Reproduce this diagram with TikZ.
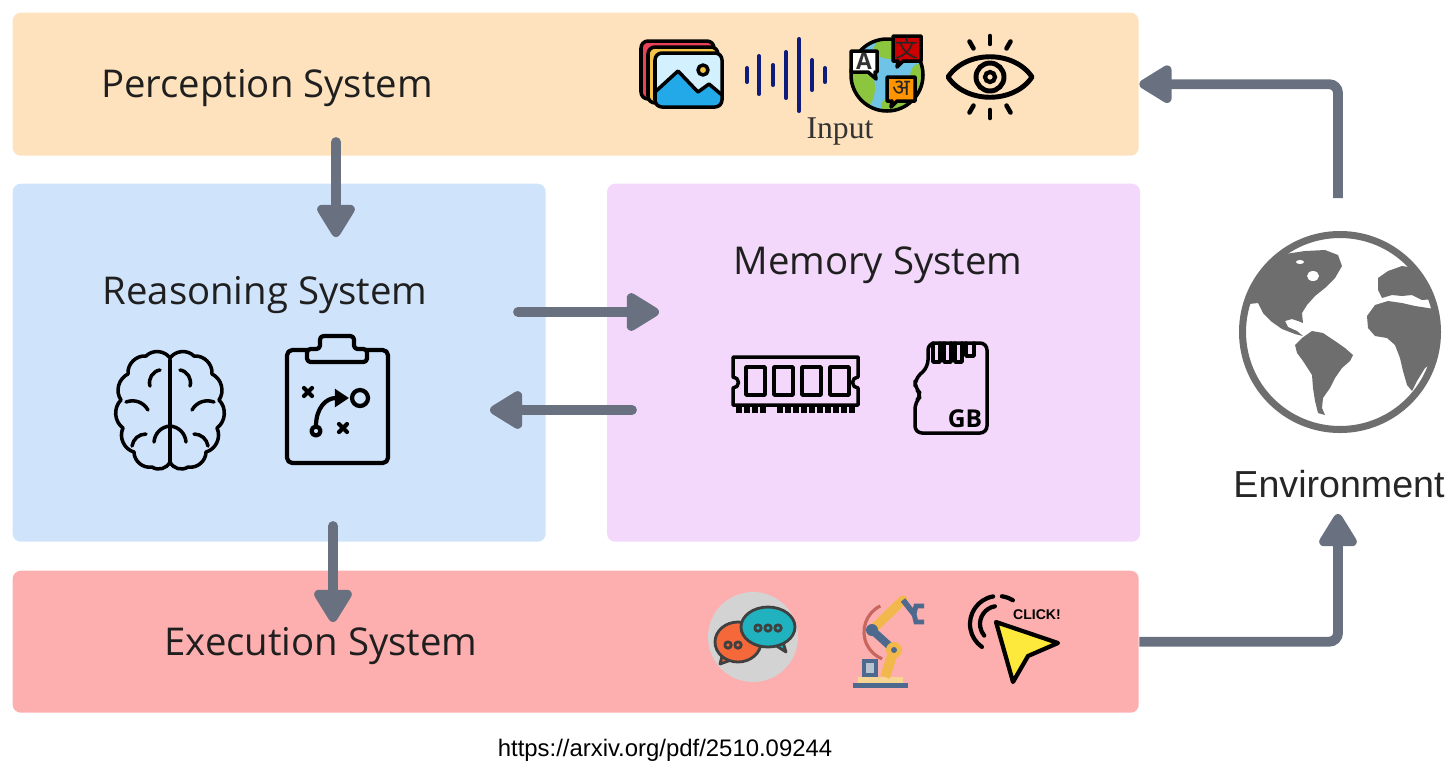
\documentclass[tikz,border=0pt]{standalone}
\usepackage{fontspec}
\setmainfont{Open Sans}
\newfontfamily\envfont{Liberation Sans}
\newfontfamily\inputfont{Liberation Serif}
\newfontfamily\devafont[Script=Devanagari]{Noto Sans}
\newfontfamily\hanfont{Noto Sans CJK SC}
\usetikzlibrary{arrows.meta,positioning}

\definecolor{percbg}{HTML}{FEE2BD}
\definecolor{reasbg}{HTML}{CFE3FB}
\definecolor{membg}{HTML}{F3D8FC}
\definecolor{execbg}{HTML}{FDAFAF}
\definecolor{flowgray}{HTML}{697181}
\definecolor{earthgray}{HTML}{6E6E6E}
\definecolor{wavenavy}{HTML}{101C7C}
\definecolor{cardred}{HTML}{E8415A}
\definecolor{cardyellow}{HTML}{F6C445}
\definecolor{skyblue}{HTML}{D2F0FD}
\definecolor{hillblue}{HTML}{24A9E8}
\definecolor{oceanblue}{HTML}{6EC3E6}
\definecolor{leafgreen}{HTML}{8CC63F}
\definecolor{chatgray}{HTML}{D3D3D3}
\definecolor{chatorange}{HTML}{F4683A}
\definecolor{chatteal}{HTML}{20B2BF}
\definecolor{armyellow}{HTML}{F2B84B}
\definecolor{armblue}{HTML}{4D6A8E}
\definecolor{armred}{HTML}{C8665E}
\definecolor{cursoryellow}{HTML}{FDE93B}

\tikzset{
  sysbox/.style={rounded corners=2.3pt, inner sep=0pt, anchor=north west},
  systitle/.style={anchor=base, text=black!88, font=\fontsize{10.9}{12}\selectfont},
  flow/.style={draw=flowgray, line width=2.8pt, line cap=round,
    -{Triangle[length=10.5pt, width=12pt, round]}},
  loopflow/.style={flow, line cap=butt, rounded corners=2.5pt},
  ink/.style={line width=1pt, line join=round, line cap=round},
}

\begin{document}
\begin{tikzpicture}[x=.1mm, y=.1mm]
  \useasboundingbox (0,0) rectangle (1456,-775) ;

  % the four systems
  \node [sysbox, fill=percbg, minimum width=11.26cm, minimum height=1.43cm] (perc) at (12,-12) {} ;
  \node [sysbox, fill=reasbg, minimum width=5.33cm, minimum height=3.58cm] (reas) at (12,-183) {} ;
  \node [sysbox, fill=membg, minimum width=5.33cm, minimum height=3.58cm, right=6mm of reas.north east, anchor=north west] (mem) {} ;
  \node [sysbox, fill=execbg, minimum width=11.26cm, minimum height=1.42cm] (exec) at (12,-570) {} ;

  \node [systitle] (perc-t) at (267,-97) {Perception System} ;
  \node [systitle] (reas-t) at (265,-304) {Reasoning System} ;
  \node [systitle] (mem-t) at (878,-274) {Memory System} ;
  \node [systitle] (exec-t) at (321,-655) {Execution System} ;

  % arrows
  \coordinate (p2r-a) at (336,-142) ; \coordinate (p2r-b) at (336,-237) ;
  \coordinate (r2m-a) at (518,-312) ; \coordinate (r2m-b) at (659,-312) ;
  \coordinate (m2r-a) at (632,-410) ; \coordinate (m2r-b) at (490,-410) ;
  \coordinate (r2e-a) at (333,-526) ; \coordinate (r2e-b) at (333,-622) ;
  \coordinate (env-in) at (1338,-514) ; \coordinate (env-out) at (1338,-198) ;

  \draw [flow] (p2r-a) -- (p2r-b) ;
  \draw [flow] (r2m-a) -- (r2m-b) ;
  \draw [flow] (m2r-a) -- (m2r-b) ;
  \draw [flow] (r2e-a) -- (r2e-b) ;
  \draw [loopflow] (exec.east) -| (env-in) ;
  \draw [loopflow] (env-out) |- (perc.east) ;

  % environment
  \node [circle, draw=earthgray, line width=2pt, minimum size=1.95cm, inner sep=0pt] (globe) at (1340,-332) {} ;
  \begin{scope}
    \clip (1340,-332) circle (95) ;
    \fill [earthgray] (1236,-292) -- (1250,-270) -- (1268,-262) -- (1285,-254) -- (1305,-251) -- (1325,-250)
      -- (1338,-255) -- (1342,-266) -- (1335,-278) -- (1325,-288) -- (1315,-296) -- (1307,-305) -- (1302,-313)
      -- (1303,-323) -- (1298,-321) -- (1292,-319) -- (1285,-321) -- (1288,-327) -- (1297,-331) -- (1303,-336)
      -- (1295,-334) -- (1282,-329) -- (1272,-322) -- (1263,-313) -- (1258,-303) -- (1240,-305) -- cycle ;
    \fill [white] (1313,-276) ellipse (6 and 5) ;
    \fill [white] (1300,-262) ellipse (4 and 2) ;
    \fill [earthgray] (1302,-338) -- (1312,-331) -- (1323,-333) -- (1335,-341) -- (1345,-348) -- (1353,-355)
      -- (1350,-361) -- (1342,-368) -- (1335,-378) -- (1330,-388) -- (1323,-398) -- (1322,-408) -- (1325,-415)
      -- (1318,-413) -- (1315,-401) -- (1313,-388) -- (1312,-375) -- (1303,-361) -- (1297,-353) -- (1295,-345) -- cycle ;
    \fill [earthgray] (1378,-278) -- (1388,-271) -- (1402,-266) -- (1415,-268) -- (1427,-278) -- (1445,-285)
      -- (1445,-298) -- (1422,-300) -- (1412,-295) -- (1402,-296) -- (1392,-295) -- (1382,-298) -- (1378,-290) -- cycle ;
    \fill [earthgray] (1367,-316) -- (1375,-305) -- (1388,-301) -- (1402,-303) -- (1415,-306) -- (1428,-308)
      -- (1445,-311) -- (1445,-355) -- (1425,-368) -- (1417,-381) -- (1412,-391) -- (1407,-385) -- (1403,-371)
      -- (1400,-358) -- (1395,-345) -- (1387,-338) -- (1375,-336) -- (1368,-328) -- cycle ;
  \end{scope}
  \node [anchor=base, font=\envfont\fontsize{10.7}{12}\selectfont, text=black!85] (env-t) at (1339,-497) {Environment} ;

  % input icons
  \begin{scope}[ink]
    \draw [fill=cardred, rounded corners=2pt] (641,-41) rectangle (714,-99) ;
    \draw [fill=cardyellow, rounded corners=2pt] (648,-47) rectangle (718,-103) ;
    \fill [skyblue, rounded corners=2pt] (655,-53) rectangle (722,-107) ;
    \begin{scope}
      \clip [rounded corners=2pt] (655,-53) rectangle (722,-107) ;
      \fill [hillblue] (655,-92) -- (678,-71) -- (698,-92) -- (709,-84) -- (722,-95) -- (722,-107) -- (655,-107) -- cycle ;
    \end{scope}
    \draw (655,-92) -- (678,-71) -- (698,-92) -- (709,-84) -- (722,-95) ;
    \draw [fill=cardyellow] (703,-70) circle (5) ;
    \draw [rounded corners=2pt] (655,-53) rectangle (722,-107) ;
  \end{scope}
  \foreach \x/\h in {747/7, 759/19, 773/10, 786/23, 799/36, 812/15, 825/7}
    \draw [wavenavy, line width=1.15pt, line cap=round] (\x,{-75+\h}) -- (\x,{-75-\h}) ;
  \begin{scope}[ink]
    \fill [oceanblue] (887,-75) circle (36) ;
    \begin{scope}
      \clip (887,-75) circle (36) ;
      \fill [leafgreen] (858,-88) ellipse (17 and 24) ;
      \fill [leafgreen] (903,-106) ellipse (22 and 12) ;
      \fill [leafgreen] (890,-48) ellipse (16 and 11) ;
      \fill [leafgreen] (918,-78) ellipse (8 and 14) ;
    \end{scope}
    \draw (887,-75) circle (36) ;
    \draw [fill=white] (851,-51) -- (877,-51) -- (877,-72) -- (875,-72) -- (876,-79) -- (868,-72) -- (851,-72) -- cycle ;
    \draw [fill=red!80!black] (893,-36) -- (921,-36) -- (921,-61) -- (903,-61) -- (897,-67) -- (898,-61) -- (893,-61) -- cycle ;
    \draw [fill=orange!85!yellow] (887,-77) -- (915,-77) -- (915,-101) -- (897,-101) -- (891,-107) -- (892,-101) -- (887,-101) -- cycle ;
  \end{scope}
  \node [font=\bfseries\fontsize{6.5}{7}\selectfont, text=black!80] (lang-a) at (864,-61.5) {A} ;
  \node [font=\hanfont\fontsize{6.5}{7}\selectfont, text=black!85] (lang-zh) at (907,-48.5) {文} ;
  \node [font=\devafont\fontsize{6.5}{7}\selectfont, text=black!85] (lang-hi) at (901,-88) {अ} ;
  \draw [line width=1.4pt, line join=round] (948,-77) .. controls (966,-50) and (1014,-50) .. (1032,-77)
    .. controls (1014,-104) and (966,-104) .. (948,-77) -- cycle ;
  \draw [line width=1.4pt] (990,-77) circle (14) ;
  \draw [line width=1.2pt] (990,-77) circle (5) ;
  \foreach \a in {60,90,120,240,270,300}
    \draw [line width=1.3pt, line cap=round] (990,-77) ++(\a:33) -- ++(\a:8) ;
  \node [anchor=base, font=\inputfont\fontsize{9}{10}\selectfont, text=black!80] (input-t) at (840,-138) {Input} ;

  % reasoning icons
  \begin{scope}[ink]
    \draw (170,-358) to[bend right=50] (146,-356) to[bend right=50] (128,-374) to[bend right=50] (121,-400)
      to[bend right=50] (123,-428) to[bend right=50] (134,-452) to[bend right=50] (152,-467) to[bend right=50] (170,-462) ;
    \draw (170,-358) to[bend left=50] (194,-356) to[bend left=50] (212,-374) to[bend left=50] (219,-400)
      to[bend left=50] (217,-428) to[bend left=50] (206,-452) to[bend left=50] (188,-467) to[bend left=50] (170,-462) ;
    \draw (170,-360) -- (170,-462) ;
    \draw (160,-370) to[bend right=50] (150,-386) ;
    \draw (126,-402) to[bend left=40] (148,-410) ;
    \draw (170,-426) to[bend right=40] (154,-442) ;
    \draw (132,-446) to[bend left=40] (146,-434) ;
    \draw (180,-370) to[bend left=50] (190,-386) ;
    \draw (214,-402) to[bend right=40] (192,-410) ;
    \draw (170,-426) to[bend left=40] (186,-442) ;
    \draw (208,-446) to[bend right=40] (194,-434) ;

    \draw [line width=1.2pt, rounded corners=1.5pt] (287,-350) rectangle (388,-463) ;
    \draw [line width=1.2pt, fill=reasbg, rounded corners=1pt] (307,-362) -- (307,-349) -- (320,-349) -- (320,-336)
      -- (354,-336) -- (354,-349) -- (367,-349) -- (367,-362) -- cycle ;
    \draw [line width=1.2pt] (304,-388) -- ++(8,-8) (304,-396) -- ++(8,8) ;
    \draw [line width=1.2pt] (339,-424) -- ++(8,-8) (339,-432) -- ++(8,8) ;
    \draw [line width=1.2pt] (360,-398) circle (8) ;
    \draw [line width=1.2pt] (316,-431) circle (4.5) ;
    \draw [line width=1.2pt, -{Triangle[length=4pt, width=5pt]}] (316,-426) .. controls (316,-408) and (326,-398) .. (349,-398) ;
  \end{scope}

  % memory icons
  \begin{scope}[ink]
    \draw (733,-357) -- (858,-357) -- (858,-377) arc[start angle=90, end angle=270, radius=5.5] -- (858,-405)
      -- (733,-405) -- (733,-388) arc[start angle=-90, end angle=90, radius=5.5] -- cycle ;
    \foreach \x in {746,774,802,830}
      \draw (\x,-367) rectangle ++(19,-28) ;
    \foreach \x in {736,744,752,760,777,785,793,801,809,817,825,833,841,849}
      \fill (\x,-405) rectangle ++(6,-8) ;
    \draw [rounded corners=2pt] (928,-343) -- (987,-343) -- (987,-433) -- (915,-433) -- (915,-402) -- (922,-395)
      -- (915,-388) -- (915,-379) -- (928,-367) -- cycle ;
    \foreach \x in {933,944,955}
      \draw (\x,-343) -- (\x,-362) -- (\x+7,-362) -- (\x+7,-343) ;
    \draw (966,-343) -- (966,-356) -- (974,-356) -- (974,-343) ;
  \end{scope}
  \node [font=\bfseries\fontsize{7}{8}\selectfont] (gb) at (965,-419) {GB} ;

  % execution icons
  \fill [chatgray] (753,-637) circle (45) ;
  \begin{scope}[ink, line width=.8pt, draw=black!75]
    \draw [fill=chatorange] (722,-656) -- (720,-664) -- (731,-660) ;
    \draw [fill=chatorange] (738,-642) ellipse (23 and 20) ;
    \draw [fill=chatteal] (783,-642) -- (786,-652) -- (775,-645) ;
    \draw [fill=chatteal] (768,-627) ellipse (27 and 20) ;
    \foreach \x in {728,738}
      \draw [fill=chatorange] (\x,-645) circle (3.2) ;
    \foreach \x in {758,768,778}
      \draw [fill=chatteal] (\x,-628) circle (3.2) ;
  \end{scope}
  \draw [armred, line width=.9pt] (893,-632) ++(116:29) arc[start angle=116, end angle=248, radius=29] ;
  \fill [armblue] (853,-683) rectangle (908,-688) ;
  \fill [armyellow!60] (858,-677) rectangle (903,-683) ;
  \fill [armblue] (862,-659) rectangle (878,-677) ;
  \fill [armblue!40] (866,-663) rectangle (874,-673) ;
  \draw [armyellow, line width=2.8pt] (885,-677) -- (894,-650) ;
  \draw [armblue, line width=2.2pt] (894,-650) -- (872,-630) ;
  \draw [armyellow, line width=2.6pt, line cap=round] (872,-630) -- (903,-600) ;
  \draw [armblue, line width=1.6pt] (903,-600) -- (914,-614) ;
  \draw [armblue, line width=1.4pt] (924,-606) -- (916,-606) -- (914,-614) -- (916,-622) -- (924,-622) ;
  \fill [armblue] (872,-630) circle (6) ;
  \fill [armyellow] (894,-650) circle (8) ;
  \fill [armblue] (894,-650) circle (3) ;
  \draw [line width=1.2pt, line cap=round] (998,-624) ++(100:28) arc[start angle=100, end angle=235, radius=28] ;
  \draw [line width=1.2pt, line cap=round] (998,-624) ++(58:28) arc[start angle=58, end angle=82, radius=28] ;
  \draw [line width=1.2pt, line cap=round] (998,-624) ++(100:18) arc[start angle=100, end angle=220, radius=18] ;
  \draw [fill=cursoryellow, line width=1.2pt, line join=round] (996,-622) -- (1058,-643) -- (1028,-656) -- (1013,-682) -- cycle ;
  \node [font=\envfont\bfseries\fontsize{4}{5}\selectfont] (click) at (1037,-615) {CLICK!} ;

  \node [font=\envfont\fontsize{6.8}{8}\selectfont] (src) at (665,-750) {https://arxiv.org/pdf/2510.09244} ;
\end{tikzpicture}
\end{document}
